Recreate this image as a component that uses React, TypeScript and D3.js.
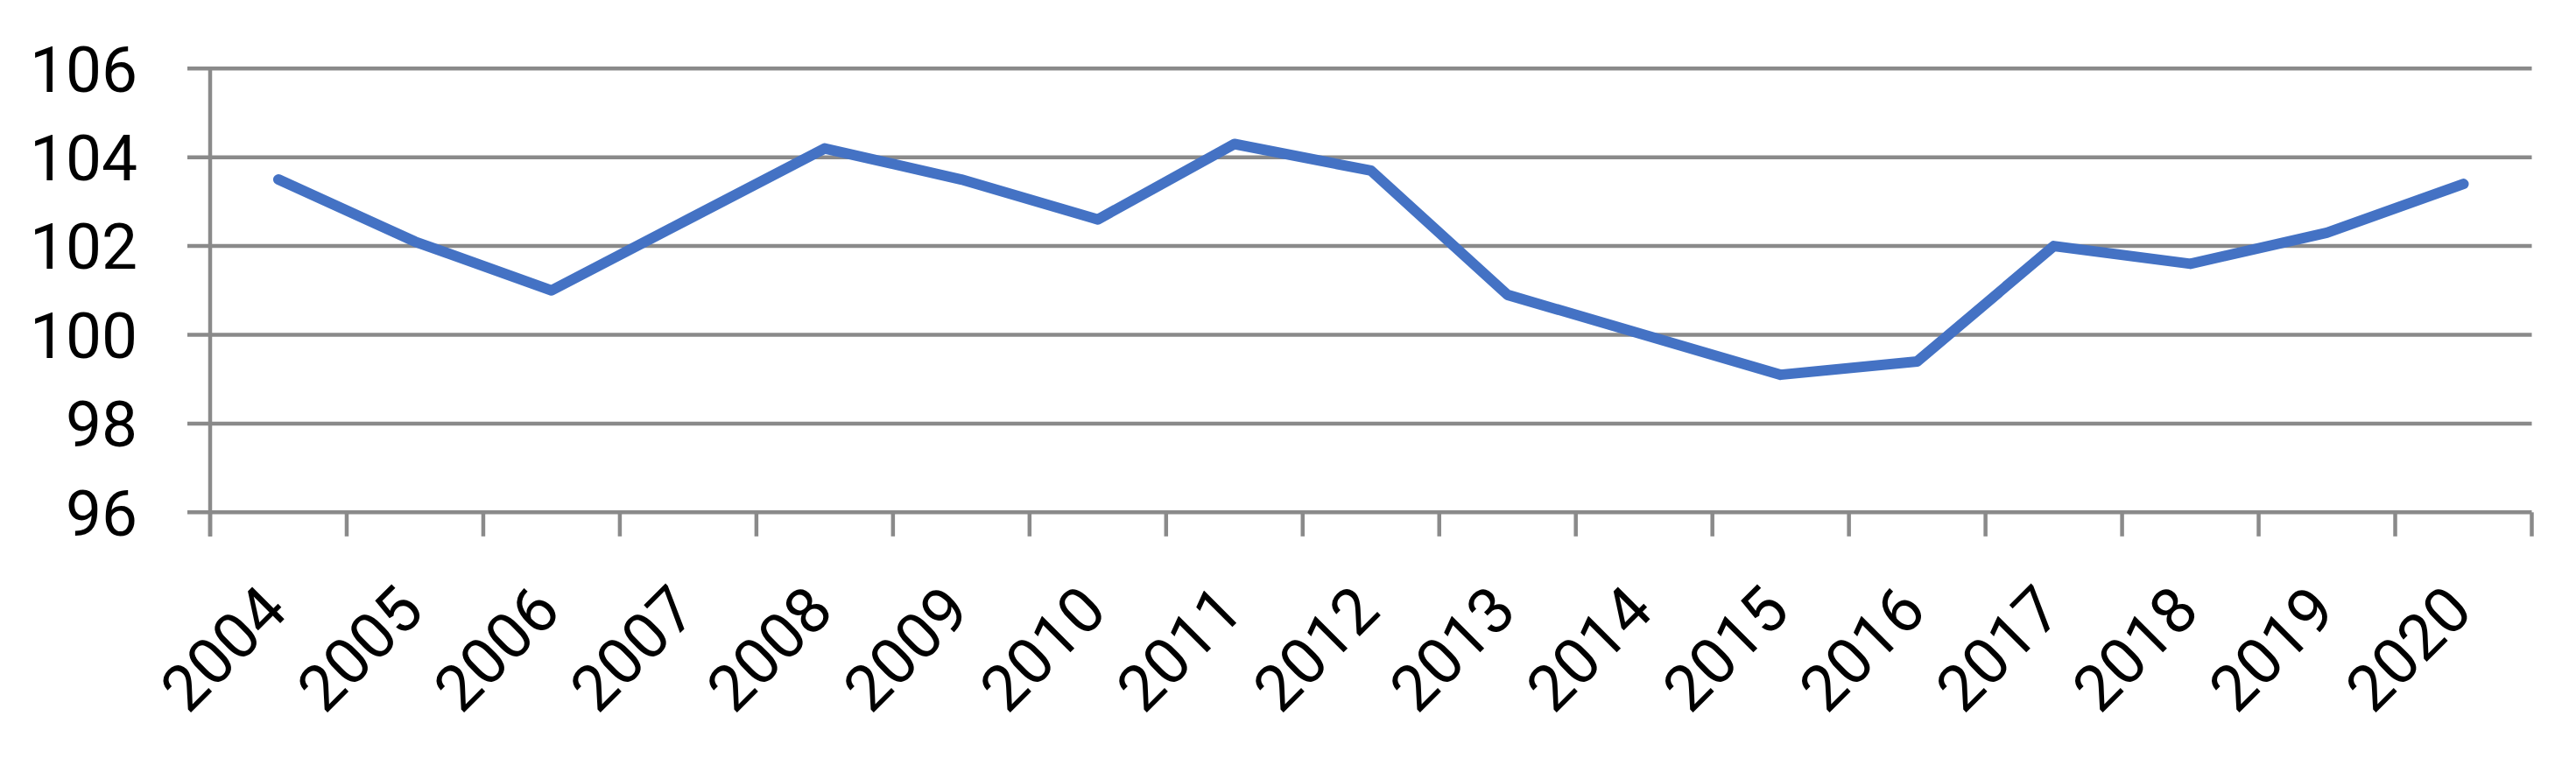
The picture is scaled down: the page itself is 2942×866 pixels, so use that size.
import React from "react";
import * as d3 from "d3";

const years = ["2004","2005","2006","2007","2008","2009","2010","2011","2012","2013","2014","2015","2016","2017","2018","2019","2020"];
const values = [103.5,102.1,101.0,102.6,104.2,103.5,102.6,104.3,103.7,100.9,100.0,99.1,99.4,102.0,101.6,102.3,103.4];
const yTicks = [96, 98, 100, 102, 104, 106];

const W = 2942, H = 866;
const left = 240, right = 2891.5, top = 78.3, bottom = 585.3;
const FONT = "Roboto, 'Liberation Sans', sans-serif";
const FS = 73;
const GRID = "#8a8a8a";

export default function App() {
  const x = d3.scaleBand<string>().domain(years).range([left, right]).paddingInner(0).paddingOuter(0);
  const y = d3.scaleLinear().domain([96, 106]).range([bottom, top]);
  const bw = x.bandwidth();
  const line = d3.line<number>().x((_, i) => (x(years[i]) as number) + bw / 2).y(d => y(d));
  const boundaries = d3.range(years.length + 1).map(i => left + i * bw);

  return (
    <svg width={W} height={H} style={{ position: "absolute", left: 0, top: 0, background: "#fff" }}>
      <rect x={0} y={0} width={W} height={H} fill="#fff" />
      {yTicks.map(t => (
        <g key={t}>
          <line x1={left - 26} x2={right} y1={y(t)} y2={y(t)} stroke={GRID} strokeWidth={4.5} />
          <text x={157} y={y(t)} dy="0.36em" textAnchor="end" fontFamily={FONT} fontSize={FS} fill="#000">{t}</text>
        </g>
      ))}
      <line x1={left} x2={left} y1={top - 2} y2={bottom + 27.5} stroke={GRID} strokeWidth={4.5} />
      {boundaries.map((bx, i) => (
        <line key={i} x1={bx} x2={bx} y1={bottom} y2={bottom + 27.5} stroke={GRID} strokeWidth={4.5} />
      ))}
      <path d={line(values) || ""} fill="none" stroke="#4472C4" strokeWidth={12} strokeLinejoin="round" strokeLinecap="round" />
      {years.map(yr => {
        const cx = (x(yr) as number) + bw / 2;
        return (
          <text key={yr} transform={`translate(${cx + 13},${701}) rotate(-45)`} textAnchor="end" fontFamily={FONT} fontSize={FS} fill="#000">{yr}</text>
        );
      })}
    </svg>
  );
}
